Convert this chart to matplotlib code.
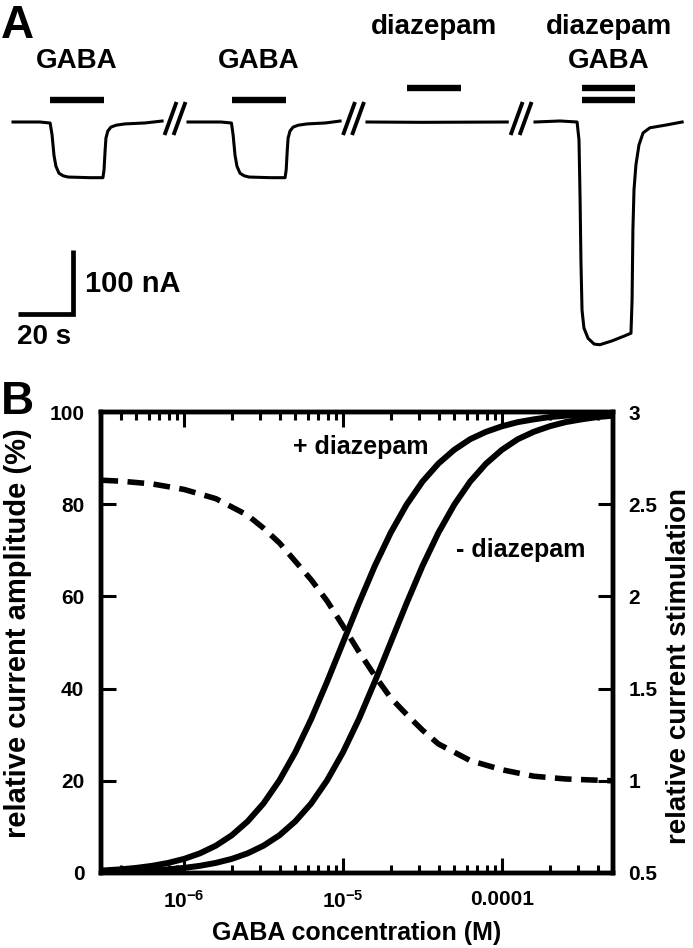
import numpy as np
import matplotlib
matplotlib.use("Agg")
import matplotlib.pyplot as plt
from matplotlib.ticker import FixedLocator, FixedFormatter, LogLocator, NullFormatter

plt.rcParams['font.family'] = ['Liberation Sans', 'DejaVu Sans']
plt.rcParams['font.weight'] = 'bold'
plt.rcParams['mathtext.fontset'] = 'custom'
plt.rcParams['mathtext.rm'] = 'Liberation Sans:bold'
plt.rcParams['mathtext.it'] = 'Liberation Sans:bold'
plt.rcParams['mathtext.bf'] = 'Liberation Sans:bold'

# ---------- panel A: current traces (time in s, current in nA) ----------
t_gaba1 = [0, 9.8, 13.5, 14.2, 14.9, 15.6, 16.7, 18.2, 20.0, 28.0, 32.7, 33.1, 33.5,
           33.8, 34.5, 35.6, 37.5, 40.7, 48.0, 54.2]
i_gaba1 = [0, 0, -1.6, -20, -52, -69, -80, -84, -86, -87, -87, -75, -44,
           -25, -14, -8, -5, -3, -1.5, 1.5]
t_gaba2 = [0, 12.0, 15.8, 16.4, 17.1, 17.8, 18.9, 20.4, 22.2, 30.0, 35.3, 35.7, 36.1,
           36.4, 37.1, 38.2, 40.1, 43.3, 50.0, 55.3]
i_gaba2 = [0, 0, -1.6, -20, -52, -69, -80, -84, -86, -87, -87, -75, -44,
           -25, -14, -8, -5, -3, -1.5, 1.5]
t_diaz = [0, 20.0, 51.0]
i_diaz = [0, -0.5, 0]
t_both = [0, 9.1, 15.3, 16.0, 16.4, 16.7, 17.1, 17.8, 19.3, 21.5, 23.6, 28.0, 32.7,
          34.9, 35.3, 35.6, 36.0, 36.7, 37.8, 39.3, 41.8, 47.3, 53.5]
i_both = [0, 1.6, 0, -28, -122, -216, -294, -322, -338, -347, -348, -342, -334,
          -330, -278, -169, -106, -67, -36, -17, -9, -5, 0]

traces = [(t_gaba1, i_gaba1), (t_gaba2, i_gaba2), (t_diaz, i_diaz), (t_both, i_both)]
app_start = [13.5, 16.0, 14.5, 17.1]
app_end = [33.1, 35.6, 34.2, 36.4]
app_drugs = [["GABA"], ["GABA"], ["diazepam"], ["diazepam", "GABA"]]

# ---------- panel B: concentration-response ----------
logc_fit = [-6.52, -6.4, -6.3, -6.2, -6.1, -6.0, -5.9, -5.8, -5.7, -5.6, -5.5, -5.4,
            -5.3, -5.2, -5.1, -5.0, -4.9, -4.8, -4.7, -4.6, -4.5, -4.4, -4.3, -4.2,
            -4.1, -4.0, -3.9, -3.8, -3.7, -3.6, -3.5, -3.4, -3.3]
amp_plus = [0.53, 0.79, 1.11, 1.56, 2.19, 3.06, 4.27, 5.93, 8.18, 11.2, 15.1, 20.1,
            26.2, 33.4, 41.5, 50.0, 58.5, 66.6, 73.8, 79.9, 84.9, 88.8, 91.8, 94.1,
            95.7, 96.9, 97.8, 98.4, 98.9, 99.2, 99.4, 99.6, 99.7]
amp_minus = [0.19, 0.28, 0.40, 0.56, 0.79, 1.11, 1.56, 2.19, 3.06, 4.27, 5.93, 8.18,
             11.2, 15.1, 20.1, 26.2, 33.4, 41.5, 50.0, 58.5, 66.6, 73.8, 79.9, 84.9,
             88.8, 91.8, 94.1, 95.7, 96.9, 97.8, 98.4, 98.9, 99.2]
logc_ratio = [-6.52, -6.4, -6.2, -6.0, -5.8, -5.7, -5.6, -5.5, -5.4, -5.3, -5.2, -5.1,
              -5.0, -4.9, -4.8, -4.7, -4.6, -4.5, -4.4, -4.2, -4.0, -3.8, -3.6, -3.3]
stim = [2.63, 2.625, 2.61, 2.58, 2.53, 2.485, 2.44, 2.37, 2.29, 2.19, 2.09, 1.975,
        1.84, 1.70, 1.57, 1.45, 1.36, 1.275, 1.20, 1.11, 1.06, 1.025, 1.01, 1.0]

W, H = 693, 948
fig = plt.figure(figsize=(W / 100, H / 100), dpi=100)

# panel A works in seconds / nA, scaled so that 20 s = 55 px and 100 nA = 64 px
PX_S, PX_NA = 2.75, 0.64
A_BOT_PX, BASE_PX = 360, 122
axA = fig.add_axes([0, 1 - A_BOT_PX / H, 1, A_BOT_PX / H])
axA.set_xlim(0, W / PX_S)
axA.set_ylim(-(A_BOT_PX - BASE_PX) / PX_NA, BASE_PX / PX_NA)
axA.axis('off')

def ay(py):
    return (BASE_PX - py) / PX_NA

offsets = [13 / PX_S, 188 / PX_S, 367 / PX_S, 535 / PX_S]
bar_row = {"diazepam": ay(88), "GABA": ay(100)}
label_row = {"diazepam": ay(27), "GABA": ay(61)}

for k, (t, cur) in enumerate(traces):
    x0 = offsets[k]
    axA.plot(np.array(t) + x0, cur, color='black', lw=2.2, solid_joinstyle='round')
    xs, xe = x0 + app_start[k], x0 + app_end[k]
    xc = (xs + xe) / 2
    for drug in app_drugs[k]:
        yb = bar_row[drug]
        axA.plot([xs, xe], [yb, yb], color='black', lw=4.6, solid_capstyle='butt')
        axA.text(xc, label_row[drug], drug, ha='center', va='center',
                 fontsize=20, fontweight='bold')

# break marks between the traces
for k in range(3):
    t_end = offsets[k] + traces[k][0][-1]
    t_next = offsets[k + 1]
    c = (t_end + t_next) / 2
    for dx in (-4.5 / PX_S, 4.5 / PX_S):
        axA.plot([c + dx - 6 / PX_S, c + dx + 6 / PX_S], [ay(135), ay(102)],
                 color='black', lw=2.8, solid_capstyle='butt')

# scale bar 20 s / 100 nA
sb_x, sb_y = 18 / PX_S, ay(314)
axA.plot([sb_x, sb_x + 20, sb_x + 20], [sb_y, sb_y, sb_y + 100], color='black',
         lw=3.4, solid_joinstyle='miter', solid_capstyle='butt')
axA.text(sb_x + 20 + 12 / PX_S, ay(284), '100 nA', ha='left', va='center',
         fontsize=21, fontweight='bold')
axA.text(sb_x - 1 / PX_S, ay(337), '20 s', ha='left', va='center',
         fontsize=20, fontweight='bold')

fig.text(1 / W, 1 - 38 / H, 'A', fontsize=33, fontweight='bold', va='baseline', ha='left')
fig.text(1 / W, 1 - 414 / H, 'B', fontsize=33, fontweight='bold', va='baseline', ha='left')

# panel B
L, R, T, B = 101, 613, 412, 873
ax = fig.add_axes([L / W, 1 - B / H, (R - L) / W, (B - T) / H])
conc_fit = 10.0 ** np.array(logc_fit)
conc_ratio = 10.0 ** np.array(logc_ratio)
ax.plot(conc_fit, amp_plus, color='black', lw=4.3)
ax.plot(conc_fit, amp_minus, color='black', lw=4.3)
ax.set_xscale('log')
ax.set_xlim(3e-7, 5e-4)
ax.set_ylim(0, 100)
ax.xaxis.set_major_locator(FixedLocator([1e-6, 1e-5, 1e-4]))
ax.xaxis.set_major_formatter(FixedFormatter([r'$10^{-6}$', r'$10^{-5}$', '0.0001']))
ax.xaxis.set_minor_locator(LogLocator(base=10, subs=np.arange(2, 10)))
ax.xaxis.set_minor_formatter(NullFormatter())
ax.set_yticks([0, 20, 40, 60, 80, 100])
ax.tick_params(which='both', direction='in', top=True, right=False, width=2.2,
               labelsize=15)
ax.tick_params(which='major', length=11)
ax.tick_params(which='minor', length=6)
ax.tick_params(axis='y', pad=12)
ax.tick_params(axis='x', pad=12)
for s in ax.spines.values():
    s.set_linewidth(3.2)

ax2 = ax.twinx()
ax2.plot(conc_ratio, stim, color='black', lw=4.0, dashes=(3.0, 1.7),
         dash_capstyle='butt')
ax2.set_ylim(0.5, 3)
ax2.set_yticks([0.5, 1, 1.5, 2, 2.5, 3])
ax2.set_yticklabels(['0.5', '1', '1.5', '2', '2.5', '3'])
ax2.tick_params(axis='y', direction='in', length=11, width=2.2, labelsize=15, pad=11)
for s in ax2.spines.values():
    s.set_linewidth(3.2)

ax.set_xlabel('GABA concentration (M)', fontsize=18, fontweight='bold')
ax.xaxis.set_label_coords(0.5, -0.104)
ax.set_ylabel('relative current amplitude (%)', fontsize=21, fontweight='bold')
ax.yaxis.set_label_coords(-0.135, 0.52)
ax2.set_ylabel('relative current stimulation', fontsize=20, fontweight='bold')
ax2.yaxis.set_label_coords(1.104, 0.45)

ax.text(10 ** -4.89, 92.4, '+ diazepam', ha='center', va='center', fontsize=18,
        fontweight='bold')
ax.text(10 ** -3.88, 70, '- diazepam', ha='center', va='center', fontsize=18,
        fontweight='bold')

fig.savefig('out.png', dpi=100)
